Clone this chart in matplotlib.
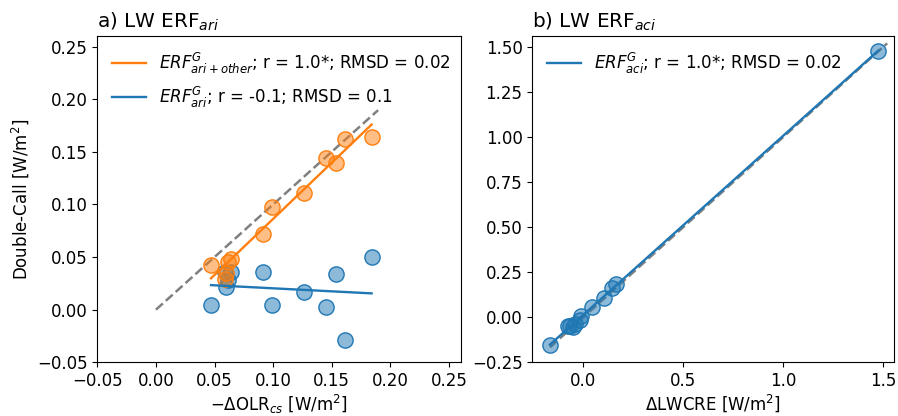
import numpy as np
import matplotlib
matplotlib.use("Agg")
import matplotlib.pyplot as plt

# panel a: LW ERF_ari
olr_cs = [0.047, 0.0585, 0.060, 0.0614, 0.0643, 0.091, 0.099, 0.126, 0.145, 0.154, 0.161, 0.184]
erf_ari_other = [0.042, 0.0295, 0.0346, 0.0453, 0.0486, 0.072, 0.098, 0.111, 0.144, 0.139, 0.162, 0.164]
erf_ari = [0.004, 0.036, 0.0215, 0.028, 0.036, 0.036, 0.004, 0.017, 0.003, 0.034, -0.029, 0.050]
label_ari_other = "$ERF^G_{ari+other}$; r = 1.0*; RMSD = 0.02"
label_ari = "$ERF^G_{ari}$; r = -0.1; RMSD = 0.1"

# panel b: LW ERF_aci
lwcre = [-0.167, -0.075, -0.065, -0.053, -0.042, -0.017, -0.013, 0.042, 0.103, 0.142, 0.163, 1.475]
erf_aci = [-0.152, -0.046, -0.050, -0.052, -0.037, -0.015, 0.009, 0.059, 0.106, 0.163, 0.185, 1.478]
label_aci = "$ERF^G_{aci}$; r = 1.0*; RMSD = 0.02"

plt.rcParams['font.size'] = 12

fig = plt.figure(figsize=(8.98, 4.16), dpi=100)
ax1 = fig.add_axes([0.1084, 0.1291, 0.4046, 0.7844])
ax2 = fig.add_axes([0.5928, 0.1291, 0.4031, 0.7844])


def draw(ax, x, ys, colors, labels):
    x = np.asarray(x)
    lo = min(0, x.min())
    hi = x.max() * 1.03
    ax.plot([lo, hi], [lo, hi], ls='--', color='grey', lw=1.8, zorder=1)
    handles = []
    for y, c, lab in zip(ys, colors, labels):
        y = np.asarray(y)
        ax.scatter(x, y, s=120, facecolor=matplotlib.colors.to_rgba(c, 0.5),
                   edgecolor=c, linewidth=1, zorder=2)
        p = np.polyfit(x, y, 1)
        xx = np.array([x.min(), x.max()])
        h, = ax.plot(xx, np.polyval(p, xx), color=c, lw=1.7, label=lab, zorder=3)
        handles.append(h)
    return handles


h = draw(ax1, olr_cs, [erf_ari, erf_ari_other], ['tab:blue', 'tab:orange'],
         [label_ari, label_ari_other])
ax1.legend(handles=h[::-1], loc='upper left', frameon=False)
ax1.set_xlim(-0.05, 0.26)
ax1.set_ylim(-0.05, 0.26)
ax1.set_xticks(np.arange(-0.05, 0.26, 0.05))
ax1.set_yticks(np.arange(-0.05, 0.26, 0.05))
ax1.set_title("a) LW ERF$_{ari}$", loc='left')
ax1.set_xlabel(r"$-\Delta$OLR$_{cs}$ [W/m$^2$]", labelpad=2)
ax1.set_ylabel("Double-Call [W/m$^2$]")

h = draw(ax2, lwcre, [erf_aci], ['tab:blue'], [label_aci])
ax2.legend(handles=h, loc='upper left', frameon=False)
ax2.set_xlim(-0.255, 1.555)
ax2.set_ylim(-0.25, 1.56)
ax2.set_xticks([0.0, 0.5, 1.0, 1.5])
ax2.set_yticks(np.arange(-0.25, 1.51, 0.25))
ax2.set_title("b) LW ERF$_{aci}$", loc='left')
ax2.set_xlabel(r"$\Delta$LWCRE [W/m$^2$]", labelpad=2)

fig.savefig("out.png", dpi=100)
